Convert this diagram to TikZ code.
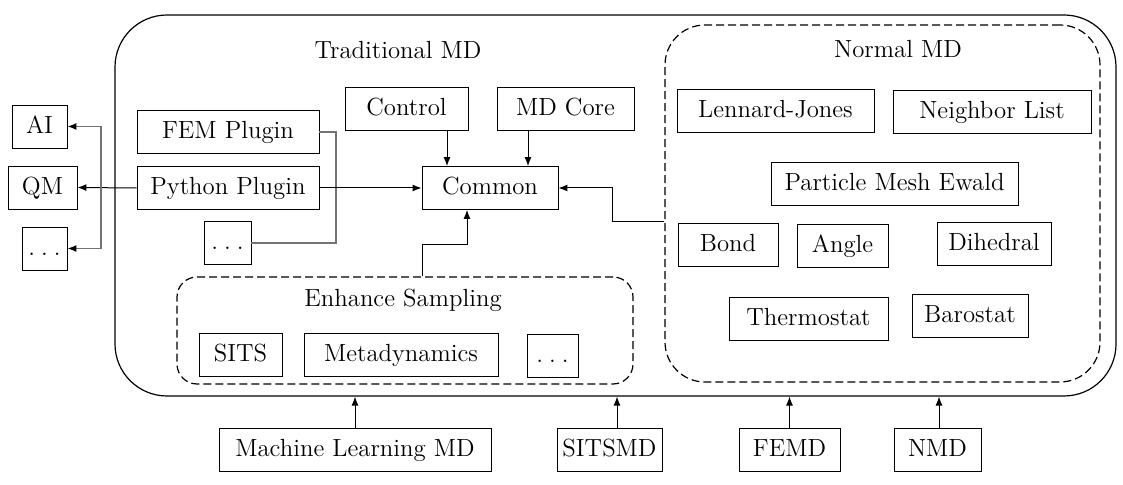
\documentclass[tikz,border=0pt]{standalone}
\usetikzlibrary{arrows.meta}
\newcommand{\gapdots}{.\hspace{3pt}.\hspace{3pt}.}
\begin{document}
\begin{tikzpicture}[x=0.5pt,y=-0.5pt,font=\fontsize{12.4}{14}\selectfont]
\tikzset{box/.style = {shape=rectangle,draw,line width=0.45pt,inner sep=0pt,minimum height=21.5pt,text height=8.5pt,text depth=1.5pt}}
\tikzset{group/.style = {shape=rectangle,draw,line width=0.6pt,inner sep=0pt}}
\tikzset{link/.style = {line width=0.5pt,-{Latex[length=4.5pt,width=3.5pt]}}}
\tikzset{grey/.style = {line width=0.7pt,draw=black!55}}
\useasboundingbox (0,0) rectangle (1123,485);
% outer frames
\node[group,rounded corners=26pt,minimum width=500.5pt,minimum height=190.5pt] (trad) at (615.5,205.5) {};
\node[group,dash pattern=on 4pt off 2pt,rounded corners=20pt,minimum width=217.5pt,minimum height=178.5pt] (nmd) at (882.5,203.5) {};
\node[group,dash pattern=on 4pt off 2pt,rounded corners=10pt,minimum width=228pt,minimum height=53.5pt] (enh) at (405,330.5) {};
\node at (398,50) {Traditional MD};
\node at (898,49) {Normal MD};
\node at (403,300) {Enhance Sampling};
% targets on the left
\node[box,minimum width=27.5pt] (ai) at (39.5,126.5) {AI};
\node[box,minimum width=34.5pt] (qm) at (42.5,187.5) {QM};
\node[box,minimum width=22.5pt] (dotsl) at (44.5,248.5) {\gapdots};
% plugins and core
\node[box,minimum width=91pt] (fem) at (228,132) {FEM Plugin};
\node[box,minimum width=91pt] (py) at (228,188) {Python Plugin};
\node[box,minimum width=23.5pt] (dotsp) at (227.5,243) {\gapdots};
\node[box,minimum width=61.5pt] (ctrl) at (406.5,108.5) {Control};
\node[box,minimum width=68.5pt] (core) at (565.5,108.5) {MD Core};
\node[box,minimum width=68pt] (common) at (490,188) {Common};
% normal MD
\node[box,minimum width=98.5pt] (lj) at (775.5,111) {Lennard-Jones};
\node[box,minimum width=99pt] (nl) at (992,111.5) {Neighbor List};
\node[box,minimum width=123.5pt] (pme) at (894.5,183.5) {Particle Mesh Ewald};
\node[box,minimum width=50pt] (bond) at (728,245) {Bond};
\node[box,minimum width=45.5pt] (angle) at (842.5,245.5) {Angle};
\node[box,minimum width=57pt] (dih) at (994,244) {Dihedral};
\node[box,minimum width=79.5pt] (thermo) at (808.5,318.5) {Thermostat};
\node[box,minimum width=58pt] (baro) at (970,315.5) {Barostat};
% enhance sampling
\node[box,minimum width=41.5pt] (sits) at (240.5,355) {SITS};
\node[box,minimum width=97pt] (meta) at (401,355) {Metadynamics};
\node[box,minimum width=25.5pt] (dotse) at (552.5,356) {\gapdots};
% programs below
\node[box,minimum width=136pt] (mlmd) at (355,449.5) {Machine Learning MD};
\node[box,minimum width=52.5pt] (sitsmd) at (609.5,449.5) {SITSMD};
\node[box,minimum width=50.5pt] (femd) at (789.5,449.5) {FEMD};
\node[box,minimum width=43.5pt] (nmdb) at (937.5,449.5) {NMD};
% connectors
\draw[link] (py.west) -- (qm.east);
\draw[link,grey,{Latex[length=4.5pt,width=3.5pt,color=black]}-{Latex[length=4.5pt,width=3.5pt,color=black]}] (ai.east) -| (101,188) |- (dotsl.east);
\draw[grey] (fem.east) -| (336,200) |- (dotsp.east);
\draw[link] (py.east) -- (common.west);
\draw[link] (447,0 |- ctrl.south) -- (447,0 |- common.north);
\draw[link] (528,0 |- core.south) -- (528,0 |- common.north);
\draw[link] (422,0 |- enh.north) -- (422,245) -| (467,0 |- common.south);
\draw[link] (nmd.west |- 0,222) -| (612,200) |- (common.east);
\draw[link] (mlmd.north) -- (mlmd |- trad.south);
\draw[link] (617,0 |- sitsmd.north) -- (617,0 |- trad.south);
\draw[link] (femd.north) -- (femd |- trad.south);
\draw[link] (939,0 |- nmdb.north) -- (939,0 |- trad.south);
\end{tikzpicture}
\end{document}
